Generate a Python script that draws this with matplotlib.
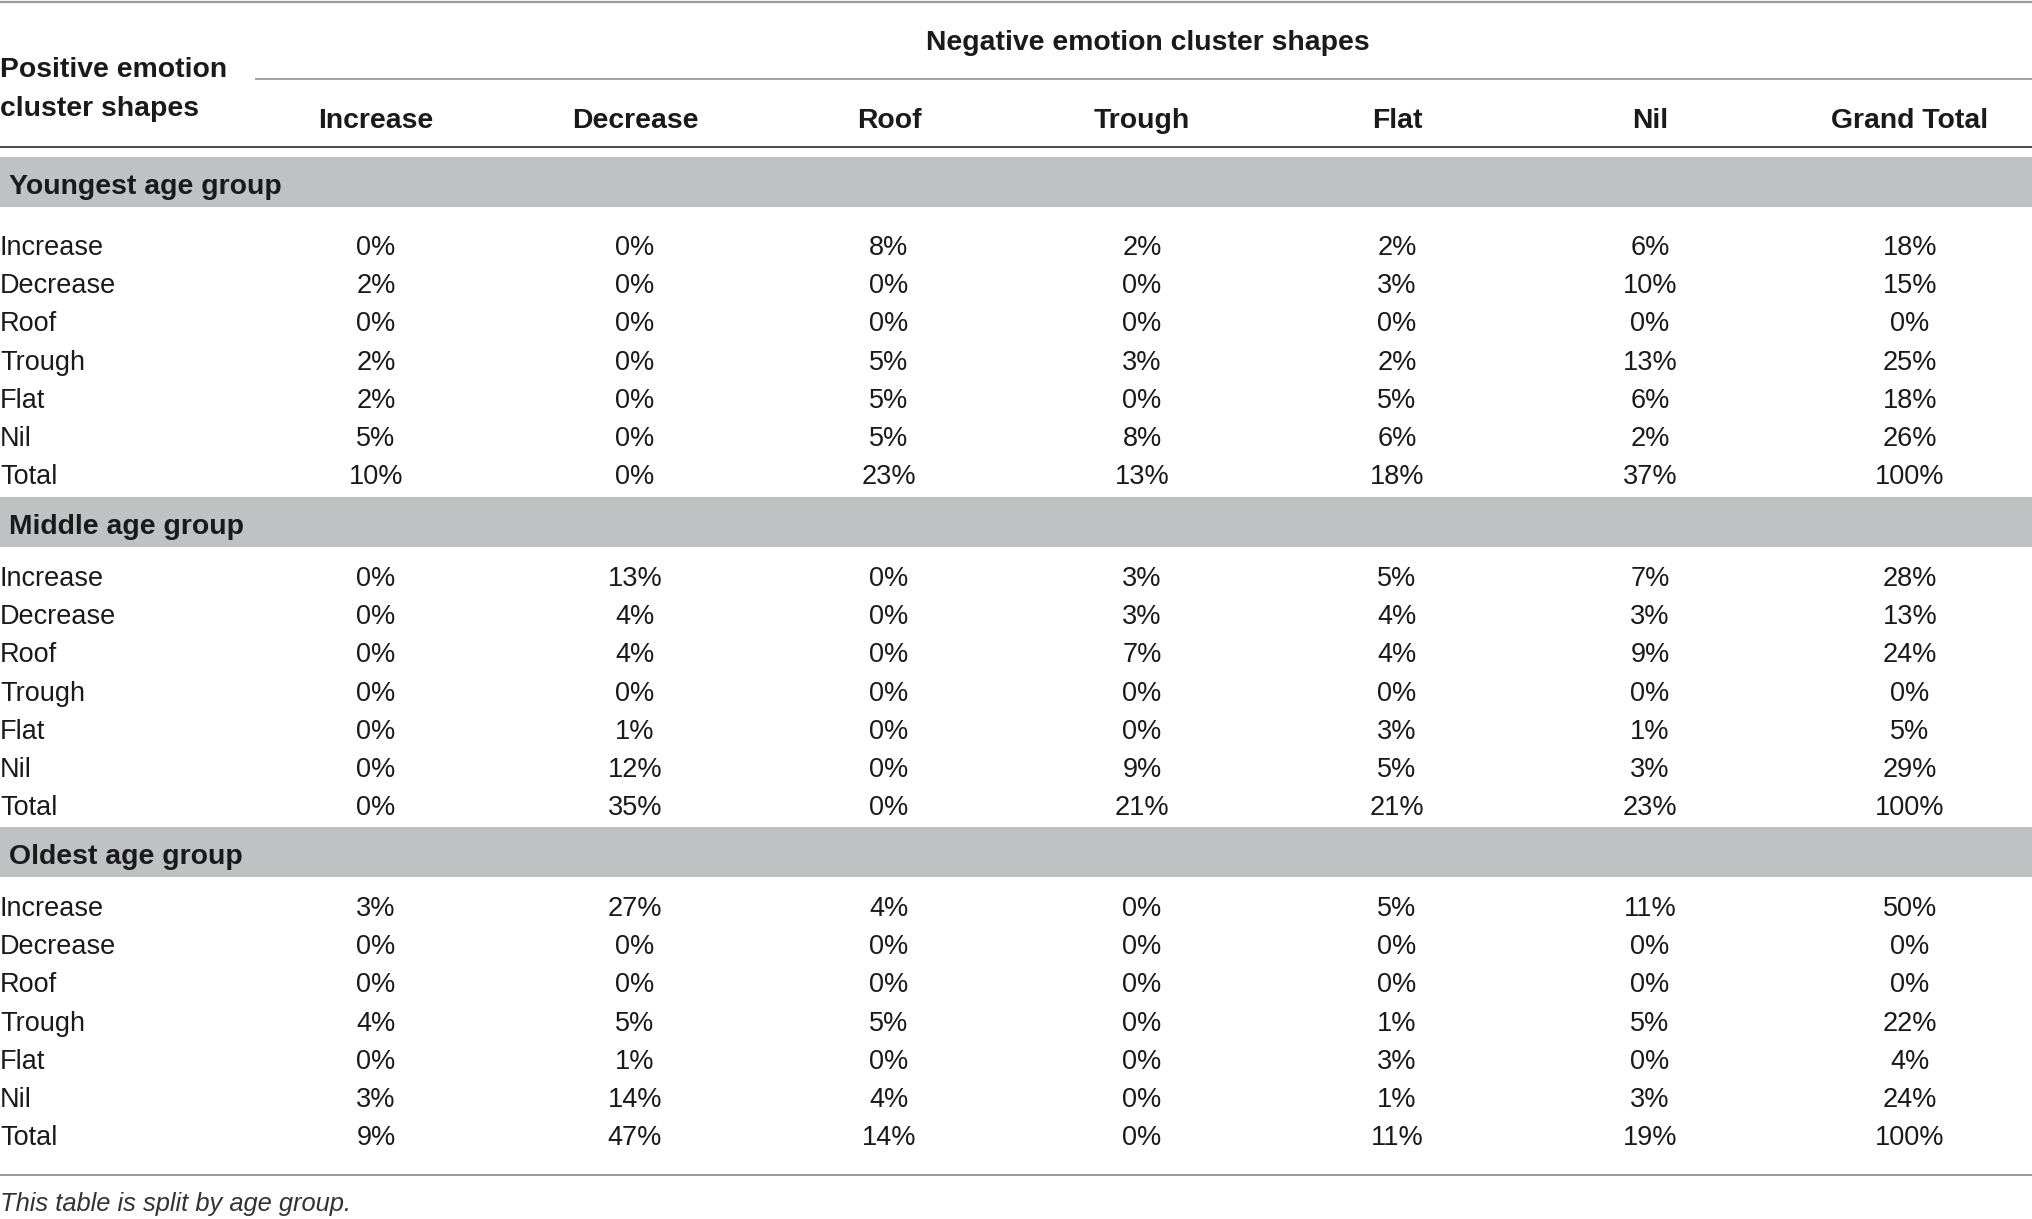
import matplotlib
matplotlib.use("Agg")
import matplotlib.pyplot as plt

# ---- table content ----
col_labels = ["Increase", "Decrease", "Roof", "Trough", "Flat", "Nil", "Grand Total"]
row_labels = ["Increase", "Decrease", "Roof", "Trough", "Flat", "Nil", "Total"]
group_names = ["Youngest age group", "Middle age group", "Oldest age group"]

youngest = [[0, 0, 8, 2, 2, 6, 18],
            [2, 0, 0, 0, 3, 10, 15],
            [0, 0, 0, 0, 0, 0, 0],
            [2, 0, 5, 3, 2, 13, 25],
            [2, 0, 5, 0, 5, 6, 18],
            [5, 0, 5, 8, 6, 2, 26],
            [10, 0, 23, 13, 18, 37, 100]]
middle = [[0, 13, 0, 3, 5, 7, 28],
          [0, 4, 0, 3, 4, 3, 13],
          [0, 4, 0, 7, 4, 9, 24],
          [0, 0, 0, 0, 0, 0, 0],
          [0, 1, 0, 0, 3, 1, 5],
          [0, 12, 0, 9, 5, 3, 29],
          [0, 35, 0, 21, 21, 23, 100]]
oldest = [[3, 27, 4, 0, 5, 11, 50],
          [0, 0, 0, 0, 0, 0, 0],
          [0, 0, 0, 0, 0, 0, 0],
          [4, 5, 5, 0, 1, 5, 22],
          [0, 1, 0, 0, 3, 0, 4],
          [3, 14, 4, 0, 1, 3, 24],
          [9, 47, 14, 0, 11, 19, 100]]
groups = [youngest, middle, oldest]

# ---- layout (pixel coords of a 2032x1219 canvas) ----
W, H = 2032, 1219
col_x = [376, 635, 889, 1142, 1397, 1650, 1910]
band_top = [157, 497, 827]
row_start = [248, 579, 909]
row_dy = 38.2
FS = 19.5      # body
FB = 20.4      # bold headers
TXT = "#1a1a1a"
plt.rcParams["font.family"] = ["Liberation Sans", "DejaVu Sans"]

fig = plt.figure(figsize=(W / 100, H / 100), dpi=100)
ax = fig.add_axes([0, 0, 1, 1])
ax.set_xlim(0, W); ax.set_ylim(H, 0); ax.axis("off")

# rules
ax.plot([0, W], [1.5, 1.5], color="#9a9a9a", lw=1.6, solid_capstyle="butt")
ax.plot([255, W], [79, 79], color="#8a8a8a", lw=1.1, solid_capstyle="butt")
ax.plot([0, W], [147, 147], color="#4a4a4a", lw=1.4, solid_capstyle="butt")
ax.plot([0, W], [1175, 1175], color="#9a9a9a", lw=1.4, solid_capstyle="butt")

# header
ax.text(1148, 43, "Negative emotion cluster shapes", ha="center", va="center",
        fontsize=FB, fontweight="bold", color=TXT)
ax.text(0, 70, "Positive emotion", ha="left", va="center",
        fontsize=FB, fontweight="bold", color=TXT)
ax.text(0, 109, "cluster shapes", ha="left", va="center",
        fontsize=FB, fontweight="bold", color=TXT)
for x, lab in zip(col_x, col_labels):
    ax.text(x, 121, lab, ha="center", va="center", fontsize=FB,
            fontweight="bold", color=TXT)

# groups
for g, (name, vals) in enumerate(zip(group_names, groups)):
    t = band_top[g]
    ax.add_patch(plt.Rectangle((0, t), W, 50, color="#c0c1c3", lw=0))
    ax.text(9, t + 30, name, ha="left", va="center", fontsize=FB,
            fontweight="bold", color=TXT)
    for i, (rl, row) in enumerate(zip(row_labels, vals)):
        y = row_start[g] + i * row_dy
        ax.text(0, y, rl, ha="left", va="center", fontsize=FS, color=TXT)
        for x, v in zip(col_x, row):
            ax.text(x, y, f"{v}%", ha="center", va="center", fontsize=FS,
                    color=TXT)

ax.text(0, 1204, "This table is split by age group.", ha="left", va="center",
        fontsize=FS * 0.94, style="italic", color="#333333")

fig.savefig("out.png", dpi=100)
